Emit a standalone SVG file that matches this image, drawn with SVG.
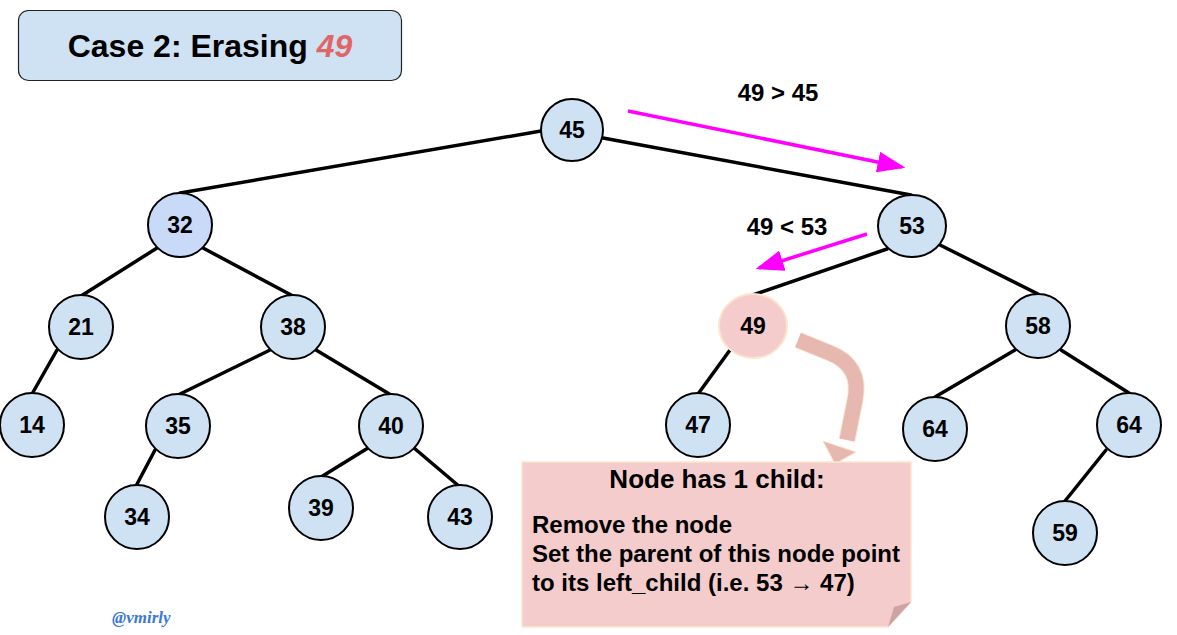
<svg xmlns="http://www.w3.org/2000/svg" width="1177" height="635" viewBox="0 0 1177 635">
<style>
.n{fill:#cfe2f3;stroke:#000;stroke-width:2}
.t{font-family:"Liberation Sans",Arial,sans-serif;font-weight:bold;font-size:23px;fill:#000;text-anchor:middle}
.e{stroke:#000;stroke-width:3.5;fill:none;stroke-linecap:round}
.m{stroke:#ff00ff;stroke-width:3.5;fill:none}
.body{font-family:"Liberation Sans",Arial,sans-serif;font-weight:bold;font-size:24px;fill:#000}
</style>
<defs>
<marker id="mh" markerWidth="8" markerHeight="6" refX="7" refY="3" orient="auto" markerUnits="strokeWidth">
<path d="M0,0 L8,3 L0,6 Z" fill="#ff00ff"/>
</marker>
</defs>
<rect width="1177" height="635" fill="#fff"/>
<g id="title">
<rect x="18.5" y="10.5" width="383" height="70" rx="10" fill="#cfe2f3" stroke="#222" stroke-width="1.2"/>
<text x="210" y="57" font-family="Liberation Sans,Arial,sans-serif" font-weight="bold" font-size="32" text-anchor="middle" fill="#000">Case 2: Erasing <tspan fill="#e06666" font-style="italic">49</tspan></text>
</g>
<g id="connectors">
<line class="e" x1="541" y1="131" x2="180" y2="193"/>
<line class="e" x1="603" y1="138" x2="911" y2="195"/>
<line class="e" x1="157" y1="248" x2="81" y2="296"/>
<line class="e" x1="203" y1="248" x2="293" y2="296"/>
<line class="e" x1="57" y1="350" x2="32" y2="394"/>
<line class="e" x1="270" y1="350" x2="178" y2="395"/>
<line class="e" x1="316" y1="350" x2="391" y2="395"/>
<line class="e" x1="155" y1="450" x2="136" y2="486"/>
<line class="e" x1="368" y1="448" x2="321" y2="477"/>
<line class="e" x1="414" y1="448" x2="460" y2="487"/>
<line class="e" x1="887" y1="249" x2="753" y2="295"/>
<line class="e" x1="940" y1="245" x2="1038" y2="294"/>
<line class="e" x1="730" y1="350" x2="698" y2="394"/>
<line class="e" x1="1015" y1="350" x2="935" y2="397"/>
<line class="e" x1="1061" y1="350" x2="1129" y2="393"/>
<line class="e" x1="1106" y1="450" x2="1065" y2="501"/>
<line class="m" x1="628" y1="111" x2="902" y2="167" marker-end="url(#mh)"/>
<line class="m" x1="867" y1="234" x2="759" y2="268" marker-end="url(#mh)"/>
<text class="t" x="778" y="101" style="font-size:24px">49 &gt; 45</text>
<text class="t" x="787" y="235" style="font-size:24px">49 &lt; 53</text>
<path d="M798 340 L830 353 Q862 366 855 400 L847 440" fill="none" stroke="#fce5cd" stroke-width="17"/>
<path d="M798 340 L830 353 Q862 366 855 400 L847 440" fill="none" stroke="#e6b8af" stroke-width="15"/>
<polygon points="823,441 856,452 835,464" fill="#e6b8af" stroke="#fce5cd" stroke-width="1"/>
</g>
<g id="n45"><circle class="n" cx="572" cy="130" r="31"/><text class="t" x="572" y="138">45</text></g>
<g id="n32"><circle class="n" cx="180" cy="225" r="32" style="fill:#c9daf8"/><text class="t" x="180" y="233">32</text></g>
<g id="n21"><circle class="n" cx="81" cy="327" r="32"/><text class="t" x="81" y="335">21</text></g>
<g id="n38"><circle class="n" cx="293" cy="327" r="32"/><text class="t" x="293" y="335">38</text></g>
<g id="n14"><circle class="n" cx="32" cy="425" r="32"/><text class="t" x="32" y="433">14</text></g>
<g id="n35"><circle class="n" cx="178" cy="426" r="32"/><text class="t" x="178" y="434">35</text></g>
<g id="n40"><circle class="n" cx="391" cy="426" r="32"/><text class="t" x="391" y="434">40</text></g>
<g id="n34"><circle class="n" cx="137" cy="517" r="32"/><text class="t" x="137" y="525">34</text></g>
<g id="n39"><circle class="n" cx="321" cy="508" r="32"/><text class="t" x="321" y="516">39</text></g>
<g id="n43"><circle class="n" cx="460" cy="517" r="32"/><text class="t" x="460" y="525">43</text></g>
<g id="n53"><ellipse class="n" cx="912" cy="226" rx="34" ry="31"/><text class="t" x="912" y="234">53</text></g>
<g id="n49"><ellipse cx="753" cy="326" rx="34" ry="32" fill="#f4cccc" stroke="#fce5cd" stroke-width="2"/><text class="t" x="753" y="334">49</text></g>
<g id="n47"><circle class="n" cx="698" cy="425" r="32"/><text class="t" x="698" y="433">47</text></g>
<g id="n58"><circle class="n" cx="1038" cy="326" r="32"/><text class="t" x="1038" y="334">58</text></g>
<g id="n64a"><circle class="n" cx="935" cy="429" r="32"/><text class="t" x="935" y="437">64</text></g>
<g id="n64b"><circle class="n" cx="1129" cy="425" r="32"/><text class="t" x="1129" y="433">64</text></g>
<g id="n59"><circle class="n" cx="1065" cy="533" r="32"/><text class="t" x="1065" y="541">59</text></g>
<g id="note">
<path d="M522 462 H911 V602 L888 627 H522 Z" fill="#f4cccc" stroke="#fce5cd" stroke-width="1.5"/>
<polygon points="888,627 894,607 911,602" fill="#cfa3a3"/>
<text class="t" x="717" y="488" style="font-size:26px">Node has 1 child:</text>
<text class="body" x="532" y="533">Remove the node</text>
<text class="body" x="532" y="562">Set the parent of this node point</text>
<text class="body" x="532" y="591">to its left_child (i.e. 53 → 47)</text>
</g>
<text id="sig" x="112" y="623" font-family="Liberation Serif,serif" font-style="italic" font-weight="bold" font-size="17" fill="#3c78d8">@vmirly</text>
</svg>
